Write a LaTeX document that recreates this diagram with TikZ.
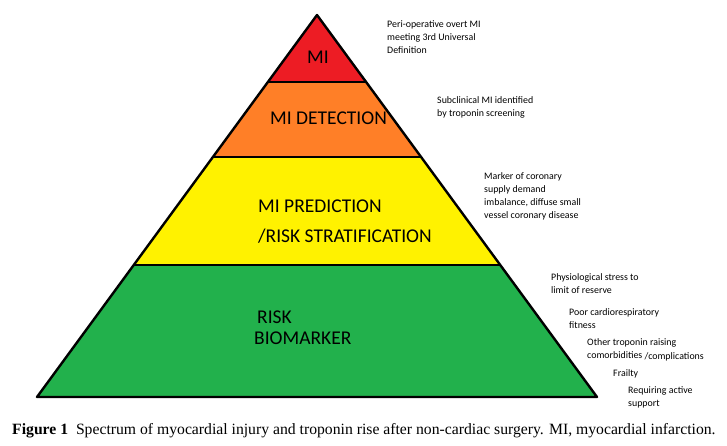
\documentclass[tikz,border=0pt]{standalone}
\usepackage{fontspec}
\setmainfont{Liberation Serif}
\newfontfamily\calfont{Carlito}
\usepackage{xcolor}
\usetikzlibrary{calc,positioning}
\definecolor{rojo}{RGB}{237,28,36}
\definecolor{naranja}{RGB}{255,127,39}
\definecolor{amarillo}{RGB}{255,242,0}
\definecolor{verde}{RGB}{34,177,76}
\tikzset{
  banda/.style={draw=black,line width=2.4pt,line join=round},
  rotulo/.style={inner sep=0pt,anchor=base west,font=\calfont\fontsize{19.5}{21}\selectfont},
  nota/.style={inner sep=0pt,anchor=north west,align=left,font=\calfont\fontsize{9.9}{13}\selectfont}
}

\begin{document}
\begin{tikzpicture}[x=1pt,y=-1pt]
\useasboundingbox (0,0) rectangle (727,446);
% piramide
\coordinate (apex) at (317,15);
\coordinate (bl) at (37,397);
\coordinate (br) at (597,397);
\coordinate (r1) at (267.9,82);  \coordinate (s1) at (366.1,82);
\coordinate (r2) at (212.9,157); \coordinate (s2) at (421.1,157);
\coordinate (r3) at (133.8,265); \coordinate (s3) at (500.2,265);
\fill[verde] (r3) -- (s3) -- (br) -- (bl) -- cycle;
\fill[amarillo] (r2) -- (s2) -- (s3) -- (r3) -- cycle;
\fill[naranja] (r1) -- (s1) -- (s2) -- (r2) -- cycle;
\fill[rojo] (apex) -- (s1) -- (r1) -- cycle;
\draw[banda] (r1) -- (s1);
\draw[banda] (r2) -- (s2);
\draw[banda] (r3) -- (s3);
\draw[banda] (apex) -- (br) -- (bl) -- cycle;
% rotulos
\node[rotulo] (mi) at (307,64) {MI};
\node[rotulo] (det) at (270,125) {MI DETECTION};
\node[rotulo] (pred) at (258,212) {MI PREDICTION};
\node[rotulo] (strat) at (258,242) {/RISK STRATIFICATION};
\node[rotulo] (risk) at (257,323) {RISK};
\node[rotulo] (bio) at (254,344) {BIOMARKER};
% notas
\node[nota] (peri) at (387,20) {Peri-operative overt MI\\meeting 3rd Universal\\Definition};
\node[nota] (subc) at (437,96) {Subclinical MI identified\\by troponin screening};
\node[nota] (mark) at (484,172) {Marker of coronary\\supply demand\\imbalance, diffuse small\\vessel coronary disease};
\node[nota] (phys) at (551,273) {Physiological stress to\\limit of reserve};
\node[nota] (poor) at (569,308) {Poor cardiorespiratory\\fitness};
\node[nota] (other) at (587,338) {Other troponin raising\\comorbidities \raisebox{-1pt}{/complications}};
\node[nota] (frail) at (613,369) {Frailty};
\node[nota] (req) at (628,386) {Requiring active\\support};
% pie
\node[inner sep=0pt,anchor=base west,font=\fontsize{15.7}{17}\selectfont] (cap) at (12,434)
  {\textbf{Figure 1}\enspace Spectrum of myocardial injury and troponin rise after non-cardiac surgery. MI, myocardial infarction.};
\end{tikzpicture}
\end{document}
